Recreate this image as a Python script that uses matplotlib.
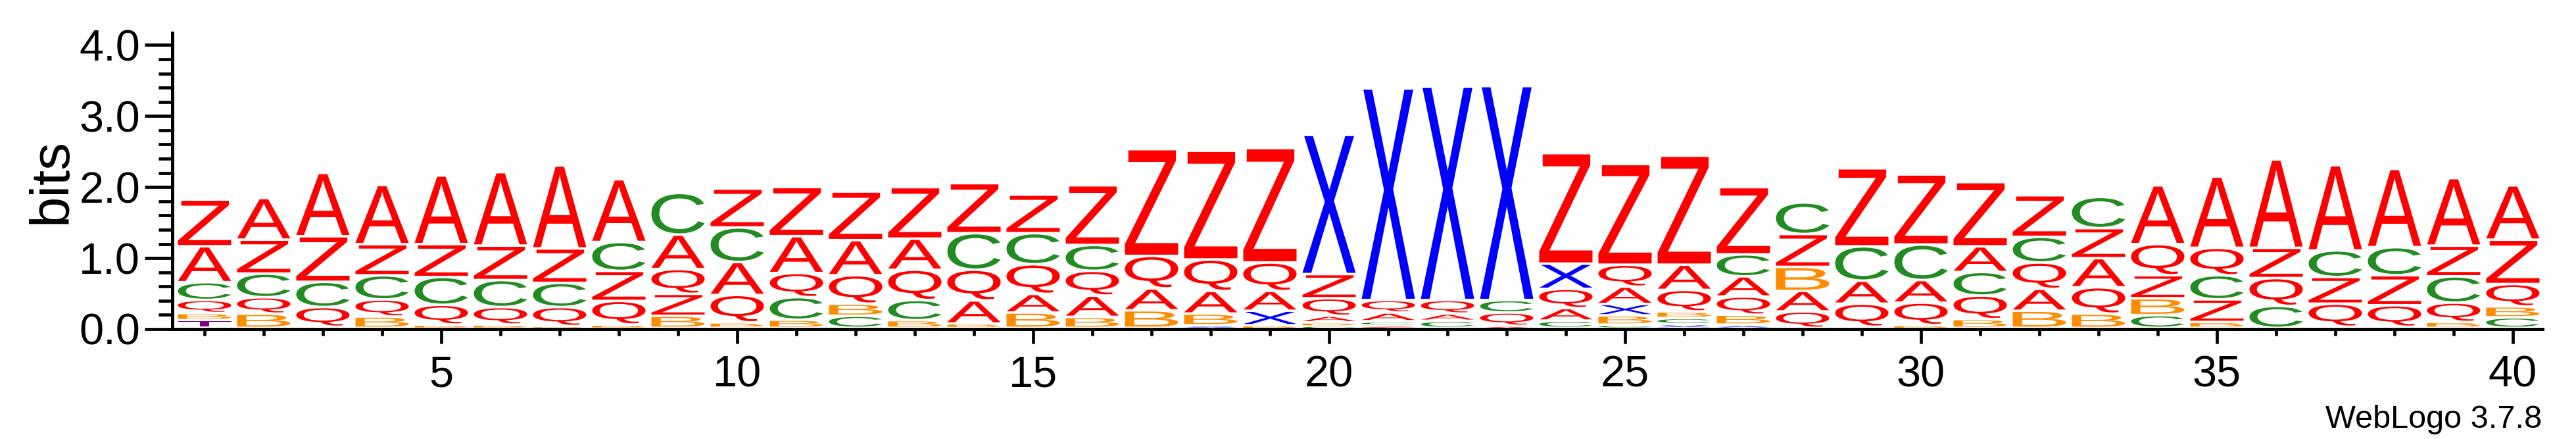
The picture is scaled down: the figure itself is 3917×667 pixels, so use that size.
import matplotlib
matplotlib.use("Agg")
import matplotlib.pyplot as plt
from matplotlib.textpath import TextPath
from matplotlib.patches import PathPatch
from matplotlib.font_manager import FontProperties
from matplotlib.transforms import Affine2D
from matplotlib.ticker import MultipleLocator, FormatStrFormatter

# sequence logo data: letters per position (top of stack first) and their heights in bits
positions = list(range(1, 41))
stack_letters = [
    "ZACQBT", "AZCQB", "AZCQB", "AZCQB", "AZCQB",
    "AZCQB", "AZCQB", "ACZQB", "CAQZB", "ZCAQB",
    "ZAQCB", "ZAQBC", "ZAQCB", "ZCQAB", "ZCQAB",
    "ZCQAB", "ZQAB", "ZQABX", "ZQAXB", "XZQABC",
    "XQACZ", "XQAC", "XCQA", "ZXQAC", "ZQAXBC",
    "ZAQBCX", "ZCAQBX", "CZBAQ", "ZCAQB", "ZCAQB",
    "ZACQB", "ZCQAB", "CZAQB", "AQZBC", "AQCZB",
    "AZQC", "ACZQB", "ACZQB", "AZCQB", "AZQBC",
]
stack_bits = [
    [0.657, 0.506, 0.25, 0.185, 0.10, 0.108],
    [0.586, 0.478, 0.333, 0.231, 0.20],
    [0.892, 0.642, 0.355, 0.278, 0.015],
    [0.833, 0.438, 0.34, 0.24, 0.16],
    [0.966, 0.463, 0.392, 0.278, 0.046],
    [1.034, 0.485, 0.38, 0.247, 0.046],
    [1.167, 0.485, 0.34, 0.268, 0.025],
    [0.883, 0.407, 0.423, 0.333, 0.046],
    [0.586, 0.485, 0.349, 0.309, 0.17],
    [0.546, 0.488, 0.463, 0.386, 0.077],
    [0.691, 0.519, 0.34, 0.318, 0.114],
    [0.685, 0.494, 0.401, 0.17, 0.17],
    [0.725, 0.438, 0.426, 0.284, 0.108],
    [0.704, 0.515, 0.432, 0.324, 0.062],
    [0.543, 0.438, 0.417, 0.262, 0.216],
    [0.84, 0.364, 0.349, 0.30, 0.154],
    [1.503, 0.457, 0.309, 0.247],
    [1.531, 0.444, 0.318, 0.164, 0.037],
    [1.611, 0.401, 0.278, 0.204, 0.037],
    [1.96, 0.34, 0.247, 0.093, 0.047, 0.03],
    [2.978, 0.176, 0.123, 0.056, 0.037],
    [3.003, 0.191, 0.102, 0.099],
    [3.012, 0.176, 0.186, 0.03],
    [1.556, 0.355, 0.271, 0.176, 0.102],
    [1.417, 0.309, 0.244, 0.16, 0.13, 0.046],
    [1.534, 0.355, 0.303, 0.092, 0.087, 0.052],
    [0.947, 0.309, 0.284, 0.256, 0.139, 0.046],
    [0.444, 0.463, 0.339, 0.288, 0.231],
    [1.099, 0.484, 0.324, 0.325, 0.015],
    [0.987, 0.50, 0.318, 0.315, 0.04],
    [0.904, 0.361, 0.333, 0.331, 0.123],
    [0.586, 0.361, 0.371, 0.308, 0.241],
    [0.439, 0.423, 0.41, 0.371, 0.20],
    [0.827, 0.438, 0.324, 0.238, 0.179],
    [1.003, 0.386, 0.34, 0.318, 0.083],
    [1.243, 0.426, 0.392, 0.309],
    [1.20, 0.374, 0.376, 0.325, 0.015],
    [1.102, 0.395, 0.423, 0.303, 0.015],
    [0.951, 0.432, 0.37, 0.272, 0.083],
    [0.765, 0.624, 0.315, 0.154, 0.148],
]
x_ticks = [5, 10, 15, 20, 25, 30, 35, 40]

colors = {"A": "#ff0000", "Z": "#ff0000", "Q": "#ff0000", "C": "#228b22",
          "B": "#ff8c00", "X": "#0000ff", "T": "#800080"}

fp = FontProperties(family="Liberation Sans")
paths = {}
for ch in colors:
    paths[ch] = TextPath((0, 0), ch, size=1, prop=fp)


def draw_letter(ax, ch, xc, y0, h, width=0.9):
    p = paths[ch]
    ext = p.get_extents()
    tr = (Affine2D().translate(-ext.x0, -ext.y0)
          .scale(width / ext.width, h / ext.height)
          .translate(xc - width / 2, y0))
    ax.add_patch(PathPatch(tr.transform_path(p), fc=colors[ch], ec="none", lw=0))


W, H = 3917, 667
fig = plt.figure(figsize=(W / 100, H / 100), dpi=100)
ax = fig.add_axes([266 / W, 167 / H, 3600 / W, 450 / H])
ax.set_xlim(0.5, 40.5)
ax.set_ylim(0, 4.17)

for pos, letters, bits in zip(positions, stack_letters, stack_bits):
    y = 0.0
    for ch, h in zip(letters[::-1], bits[::-1]):
        g = min(0.035, 0.5 * h)
        draw_letter(ax, ch, pos, y + g, h - g)
        y += h

for s in ["top", "right"]:
    ax.spines[s].set_visible(False)
for s in ["left", "bottom"]:
    ax.spines[s].set_linewidth(3.6)
ax.spines["left"].set_position(("outward", 3))

ax.xaxis.set_major_locator(plt.FixedLocator(x_ticks))
ax.xaxis.set_minor_locator(MultipleLocator(1))
ax.yaxis.set_major_locator(MultipleLocator(1.0))
ax.yaxis.set_minor_locator(MultipleLocator(0.2))
ax.yaxis.set_major_formatter(FormatStrFormatter("%.1f"))

ax.tick_params(axis="y", which="major", length=30, width=3.4, pad=5, labelsize=48)
ax.tick_params(axis="y", which="minor", length=15, width=3.4)
ax.tick_params(axis="x", which="major", length=15.5, width=3.4, pad=13, labelsize=48)
ax.tick_params(axis="x", which="minor", length=7, width=3.4)
for lab in ax.get_xticklabels() + ax.get_yticklabels():
    lab.set_fontfamily("Liberation Sans")

fig.text(79 / W, (H - 275) / H, "bits", rotation=90, ha="center", va="center",
         fontsize=60, family="Liberation Sans")
fig.text(3865 / W, (H - 650) / H, "WebLogo 3.7.8", ha="right", va="baseline",
         fontsize=35, family="Liberation Sans")

fig.savefig("out.png", dpi=100)
